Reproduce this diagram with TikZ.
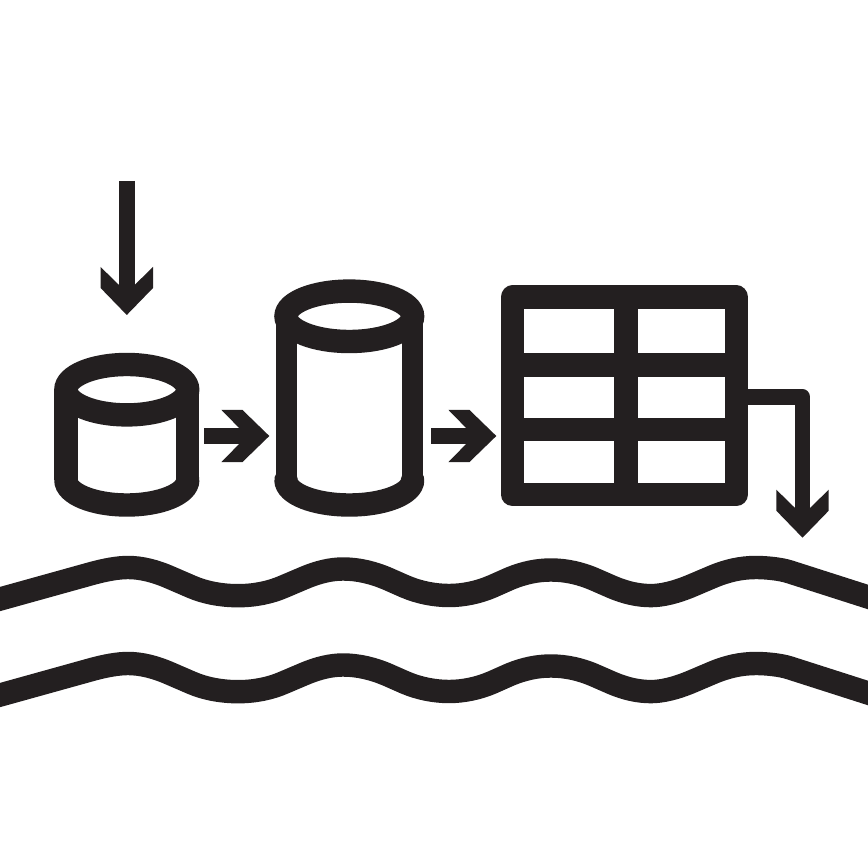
\documentclass[tikz,border=0pt]{standalone}
\usetikzlibrary{calc}

\definecolor{inkblack}{HTML}{231F20}

\tikzset{
  bar/.style={draw=inkblack,line width=0.234cm},
  shaft/.style={draw=inkblack,line width=0.156cm},
  chevron/.pic={
    \fill[inkblack] (-26.2,-48) -- (-7.8,-30) -- (7.8,-30) -- (26.2,-48)
      -- (26.2,-27) -- (0,0) -- (-26.2,-27) -- cycle;
  }
}

\begin{document}
\begin{tikzpicture}[x=0.01cm,y=-0.01cm]
  \useasboundingbox (0,0) rectangle (868,868);

  % the two drums
  \foreach \cx/\rx/\cy/\wall in {126.8/60.9/389.7/0.234,349.3/63.3/316.3/0.21} {
    \draw[draw=inkblack,line width=\wall cm] (\cx-\rx,\cy) -- (\cx-\rx,480) (\cx+\rx,\cy) -- (\cx+\rx,480);
    \draw[bar] (\cx,\cy) ellipse [x radius=\rx,y radius=25.2];
    \draw[bar,line cap=round] (\cx-\rx,480) arc [start angle=180,end angle=0,x radius=\rx,y radius=25];
  }

  % feed arrow
  \draw[shaft] (126.8,181) -- (126.8,295);
  \pic at (126.8,315) {chevron};

  % arrows between the shapes
  \foreach \dx in {0,227} {
    \draw[shaft] (204+\dx,436) -- (245+\dx,436);
    \pic[rotate=90] at (269.3+\dx,436) {chevron};
  }

  % table
  \draw[bar,line join=round] (512.5,297.2) rectangle (736.2,494.4);
  \draw[bar] (512.5,365) -- (736.2,365);
  \draw[bar] (512.5,429.3) -- (736.2,429.3);
  \draw[bar] (626,297.2) -- (626,494.4);

  % outlet arrow
  \draw[shaft,line join=round] (736.2,397) -- (802.5,397) -- (802.5,515);
  \pic at (802.5,537.7) {chevron};

  % water
  \foreach \dy in {0,96} {
    \begin{scope}[yshift=-\dy*0.01cm]
      \draw[bar] (-20,604.6) -- (90,574)
        .. controls (105.3,569.7) and (118,567.5) .. (128,567.5)
        .. controls (141,567.5) and (155,570.9) .. (170,577.5)
        -- (192,587)
        .. controls (205.5,592.8) and (222,595.7) .. (238,595.7)
        .. controls (254,595.7) and (270,592.7) .. (284,586.5)
        -- (304,578)
        .. controls (318,572) and (331,569) .. (343,569)
        .. controls (358,569) and (373,572.5) .. (388,579)
        -- (405,586.5)
        .. controls (419,592.5) and (434.5,595.5) .. (449,595.5)
        .. controls (463,595.5) and (478,592.5) .. (492,586.5)
        -- (510,578.5)
        .. controls (524,572.8) and (537,570) .. (551,570)
        .. controls (566,570) and (581,573.3) .. (596,580)
        -- (612,587)
        .. controls (625.5,592.7) and (638,595.6) .. (651,595.6)
        .. controls (662,595.6) and (676,592.3) .. (692,585.5)
        -- (712,577)
        .. controls (727,570.6) and (741,567.5) .. (756,567.5)
        .. controls (765.3,567.5) and (780.6,568.8) .. (790,572)
        -- (888,603.4);
    \end{scope}
  }
\end{tikzpicture}
\end{document}
